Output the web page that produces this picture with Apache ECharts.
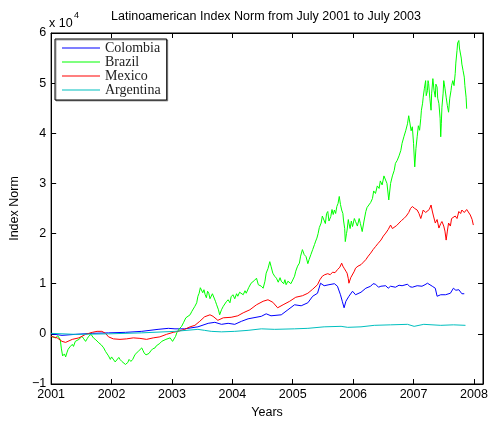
<!DOCTYPE html>
<html>
<head>
<meta charset="utf-8">
<script src="https://cdn.jsdelivr.net/npm/echarts@6/dist/echarts.min.js"></script>
<style>
  html, body { margin: 0; padding: 0; background: #fff; }
  #chart { width: 491px; height: 425px; }
</style>
</head>
<body>
<div id="chart"></div>
<script>
// Index values are in units of 10^4 (see the axis multiplier).
const colombiaYears = [2001.00,2001.18,2001.40,2001.68,2001.95,2002.23,2002.50,2002.77,2002.94,2003.05,2003.21,2003.43,2003.60,2003.71,2003.82,2003.93,2004.04,2004.15,2004.26,2004.48,2004.56,2004.64,2004.81,2004.92,2005.03,2005.14,2005.25,2005.33,2005.41,2005.46,2005.52,2005.60,2005.69,2005.74,2005.79,2005.82,2005.85,2005.88,2005.93,2005.99,2006.04,2006.13,2006.21,2006.29,2006.33,2006.37,2006.42,2006.46,2006.54,2006.58,2006.62,2006.70,2006.76,2006.81,2006.90,2006.94,2006.98,2007.06,2007.14,2007.19,2007.23,2007.31,2007.36,2007.39,2007.45,2007.53,2007.61,2007.66,2007.70,2007.75,2007.80,2007.84];
const colombiaValues = [0.00,-0.03,-0.01,0.01,0.02,0.03,0.05,0.09,0.11,0.10,0.10,0.14,0.21,0.23,0.19,0.21,0.19,0.25,0.30,0.35,0.40,0.36,0.38,0.48,0.58,0.56,0.62,0.75,0.81,1.01,0.96,0.98,1.00,0.95,0.78,0.65,0.52,0.65,0.75,0.85,0.78,0.83,0.91,0.95,1.00,0.99,0.93,0.95,0.96,0.91,0.95,0.93,0.97,0.96,0.99,0.94,0.93,0.96,0.95,0.98,1.01,0.95,0.91,0.75,0.78,0.78,0.81,0.91,0.87,0.88,0.80,0.80];

const brazilYears = [2001.00,2001.03,2001.07,2001.11,2001.15,2001.17,2001.19,2001.22,2001.24,2001.26,2001.28,2001.31,2001.35,2001.37,2001.40,2001.43,2001.46,2001.49,2001.51,2001.54,2001.57,2001.60,2001.62,2001.66,2001.70,2001.74,2001.79,2001.83,2001.87,2001.90,2001.92,2001.95,2001.98,2002.00,2002.03,2002.06,2002.09,2002.12,2002.14,2002.17,2002.20,2002.23,2002.25,2002.27,2002.29,2002.32,2002.35,2002.37,2002.39,2002.42,2002.45,2002.48,2002.50,2002.52,2002.54,2002.57,2002.60,2002.62,2002.65,2002.68,2002.72,2002.74,2002.77,2002.80,2002.83,2002.86,2002.90,2002.93,2002.97,2003.01,2003.04,2003.06,
  2003.08,2003.12,2003.16,2003.19,2003.23,2003.26,2003.30,2003.33,2003.35,2003.38,2003.41,2003.43,2003.45,2003.47,2003.49,2003.51,2003.53,2003.55,2003.57,2003.59,2003.61,2003.63,2003.65,2003.67,2003.70,2003.72,2003.74,2003.77,2003.79,2003.82,2003.85,2003.88,2003.90,2003.93,2003.96,2003.98,2004.01,2004.04,2004.07,2004.09,2004.12,2004.15,2004.18,2004.21,2004.23,2004.27,2004.31,2004.34,2004.37,2004.40,2004.43,2004.45,2004.48,2004.51,2004.54,2004.56,2004.59,2004.62,2004.64,2004.67,2004.70,2004.73,2004.76,2004.79,2004.81,2004.85,2004.87,2004.89,2004.92,2004.95,2004.97,
  2005.00,2005.03,2005.05,2005.08,2005.11,2005.13,2005.16,2005.19,2005.22,2005.25,2005.27,2005.30,2005.33,2005.36,2005.38,2005.40,2005.42,2005.44,2005.47,2005.49,2005.52,2005.54,2005.56,2005.58,2005.60,2005.63,2005.65,2005.67,2005.69,2005.71,2005.73,2005.75,2005.77,2005.79,2005.81,2005.83,2005.84,2005.86,2005.87,2005.89,2005.90,2005.92,2005.93,2005.95,2005.97,2005.99,
  2006.02,2006.04,2006.07,2006.10,2006.12,2006.15,2006.18,2006.21,2006.23,2006.26,2006.29,2006.32,2006.34,2006.37,2006.40,2006.43,2006.45,2006.48,2006.51,2006.54,2006.56,2006.59,2006.62,2006.65,2006.68,2006.70,2006.73,2006.76,2006.79,2006.81,2006.84,2006.87,2006.90,2006.92,2006.94,2006.96,2006.98,
  2007.00,2007.02,2007.04,2007.06,2007.08,2007.10,2007.12,2007.13,2007.15,2007.16,2007.18,2007.20,2007.21,2007.23,2007.24,2007.25,2007.27,2007.29,2007.30,2007.32,2007.34,2007.36,2007.37,2007.39,2007.40,2007.42,2007.44,2007.45,2007.46,2007.47,2007.49,2007.50,2007.52,2007.54,2007.56,2007.58,2007.60,2007.62,2007.63,2007.65,2007.67,2007.69,2007.70,2007.72,2007.73,2007.75,2007.76,2007.77,2007.79,2007.80,2007.82,2007.84,2007.85,2007.87,2007.88];
const brazilValues = [-0.05,-0.02,-0.08,-0.04,-0.11,-0.30,-0.44,-0.40,-0.46,-0.38,-0.31,-0.26,-0.21,-0.25,-0.15,-0.18,-0.11,-0.14,-0.05,-0.10,-0.15,-0.09,-0.05,-0.01,-0.08,-0.12,-0.18,-0.22,-0.28,-0.35,-0.38,-0.44,-0.51,-0.46,-0.48,-0.56,-0.54,-0.47,-0.51,-0.55,-0.58,-0.61,-0.64,-0.57,-0.51,-0.55,-0.51,-0.46,-0.41,-0.38,-0.34,-0.31,-0.28,-0.33,-0.38,-0.42,-0.44,-0.39,-0.34,-0.30,-0.28,-0.24,-0.21,-0.19,-0.15,-0.17,-0.11,-0.12,-0.08,-0.15,-0.18,-0.05,
  0.02,0.10,0.15,0.22,0.32,0.30,0.38,0.45,0.48,0.55,0.62,0.75,0.81,0.92,0.95,0.82,0.88,0.78,0.72,0.85,0.81,0.70,0.68,0.80,0.78,0.65,0.58,0.48,0.38,0.48,0.55,0.52,0.64,0.68,0.62,0.74,0.78,0.70,0.80,0.75,0.83,0.85,0.78,0.86,0.81,0.92,1.01,0.98,1.07,1.11,0.98,1.01,0.95,0.91,1.05,1.21,1.30,1.44,1.35,1.21,1.15,1.11,1.03,1.12,1.05,1.00,1.08,0.98,1.05,1.08,1.00,
  1.01,1.15,1.25,1.35,1.41,1.55,1.68,1.58,1.54,1.40,1.48,1.58,1.68,1.78,1.85,1.91,2.00,2.12,2.21,2.35,2.34,2.20,2.40,2.44,2.25,2.34,2.48,2.38,2.47,2.40,2.54,2.60,2.74,2.58,2.47,2.40,2.27,2.10,1.84,2.00,2.07,2.28,2.21,2.10,2.25,2.14,
  2.30,2.24,2.15,2.30,2.20,2.04,2.25,2.44,2.52,2.57,2.62,2.70,2.85,2.80,2.95,2.90,3.05,2.97,3.15,3.13,3.00,2.67,3.00,3.15,3.26,3.40,3.46,3.55,3.66,3.80,3.93,4.05,4.19,4.35,4.32,4.05,4.13,
  3.80,3.33,3.70,3.93,4.15,4.06,4.30,4.46,4.60,4.72,4.90,5.05,4.75,4.85,5.05,4.99,4.70,4.46,4.80,5.09,4.85,4.72,4.98,4.92,4.70,4.59,4.30,3.93,4.20,4.52,4.80,5.05,4.90,4.72,4.55,4.42,4.70,4.85,4.95,5.05,4.95,5.19,5.40,5.65,5.80,5.85,5.70,5.72,5.50,5.38,5.25,5.12,4.95,4.72,4.49];

const mexicoYears = [2001.00,2001.10,2001.18,2001.24,2001.35,2001.46,2001.57,2001.68,2001.76,2001.84,2001.90,2001.95,2002.03,2002.14,2002.25,2002.36,2002.47,2002.58,2002.69,2002.80,2002.91,2003.02,2003.10,2003.21,2003.30,2003.38,2003.46,2003.54,2003.63,2003.68,2003.76,2003.85,2003.98,2004.09,2004.18,2004.29,2004.40,2004.51,2004.59,2004.67,2004.75,2004.84,2004.95,2005.05,2005.16,2005.25,2005.33,
  2005.41,2005.45,2005.49,2005.53,2005.58,2005.62,2005.66,2005.70,2005.74,2005.78,2005.81,2005.83,2005.85,2005.88,2005.90,2005.92,2005.93,2005.96,2005.99,2006.02,2006.04,2006.08,2006.13,2006.17,2006.21,2006.25,2006.29,2006.33,2006.37,2006.41,2006.46,2006.50,2006.54,2006.58,2006.62,2006.65,2006.68,2006.72,2006.76,2006.80,2006.84,2006.88,2006.92,2006.95,2006.98,
  2007.02,2007.06,2007.09,2007.12,2007.14,2007.16,2007.20,2007.23,2007.26,2007.29,2007.31,2007.33,2007.36,2007.39,2007.42,2007.45,2007.47,2007.50,2007.52,2007.54,2007.56,2007.58,2007.61,2007.63,2007.66,2007.69,2007.72,2007.75,2007.78,2007.80,2007.84,2007.88,2007.91,2007.94,2007.97,2007.99];
const mexicoValues = [-0.05,-0.08,-0.15,-0.17,-0.11,-0.08,-0.01,0.03,0.05,0.05,0.01,-0.06,-0.10,-0.11,-0.10,-0.08,-0.09,-0.11,-0.08,-0.06,-0.01,0.03,0.05,0.09,0.14,0.17,0.25,0.34,0.38,0.35,0.27,0.32,0.33,0.36,0.42,0.48,0.58,0.65,0.68,0.63,0.52,0.58,0.65,0.73,0.76,0.81,0.89,
  0.98,1.08,1.15,1.18,1.20,1.18,1.23,1.22,1.28,1.33,1.41,1.35,1.31,1.25,1.21,1.10,1.01,1.12,1.15,1.25,1.31,1.35,1.38,1.43,1.48,1.55,1.61,1.68,1.74,1.80,1.87,1.95,2.01,2.08,2.17,2.10,2.07,2.16,2.21,2.26,2.30,2.35,2.42,2.50,2.54,
  2.50,2.47,2.40,2.30,2.38,2.47,2.42,2.40,2.48,2.57,2.45,2.35,2.21,2.28,2.11,2.20,2.24,2.15,2.05,1.87,2.05,2.21,2.15,2.30,2.27,2.35,2.30,2.44,2.40,2.47,2.42,2.48,2.45,2.37,2.28,2.17];

const argentinaYears = [2001.00,2001.40,2001.95,2002.50,2003.05,2003.43,2003.54,2003.65,2003.82,2004.04,2004.26,2004.48,2004.70,2005.03,2005.25,2005.52,2005.80,2005.91,2006.13,2006.35,2006.62,2006.90,2007.01,2007.17,2007.45,2007.66,2007.86];
const argentinaValues = [0.01,-0.01,0.00,0.02,0.05,0.09,0.07,0.05,0.04,0.05,0.07,0.10,0.09,0.10,0.11,0.14,0.15,0.13,0.14,0.17,0.18,0.19,0.15,0.19,0.17,0.18,0.17];

const seriesNames = ['Colombia', 'Brazil', 'Mexico', 'Argentina'];
const seriesColors = ['#0000ff', '#00ff00', '#ff0000', '#00bfbf'];
const seriesYears = [colombiaYears, brazilYears, mexicoYears, argentinaYears];
const seriesValues = [colombiaValues, brazilValues, mexicoValues, argentinaValues];

const chart = echarts.init(document.getElementById('chart'), null, { renderer: 'canvas' });

const sansFont = '"Liberation Sans", Arial, Helvetica, sans-serif';
const serifFont = '"Liberation Serif", "Times New Roman", serif';

const tickLabel = { color: '#000', fontFamily: sansFont, fontSize: 12.5 };
const innerTick = { show: true, inside: true, length: 5, lineStyle: { color: '#000', width: 1 } };

function fmtYear(v) {
  return Math.abs(v - Math.round(v)) < 1e-6 ? String(Math.round(v)) : '';
}
function fmtVal(v) {
  return v < 0 ? '\u2212' + Math.abs(v) : String(v);
}

chart.setOption({
  animation: false,
  backgroundColor: '#fff',
  grid: {
    left: 49, right: 8, top: 33, bottom: 41,
    show: true, borderColor: '#000', borderWidth: 1, backgroundColor: '#fff'
  },
  legend: {
    data: seriesNames,
    orient: 'vertical',
    left: 55, top: 39,
    padding: [2, 6, 3, 7],
    itemGap: 0,
    itemWidth: 38,
    itemHeight: 1,
    icon: 'rect',
    backgroundColor: '#fff',
    borderColor: '#000',
    borderWidth: 1,
    shadowColor: 'rgba(0,0,0,0.35)',
    shadowOffsetX: 1,
    shadowOffsetY: 1,
    shadowBlur: 0,
    selectedMode: false,
    textStyle: { fontFamily: serifFont, fontSize: 14, color: '#222', lineHeight: 12 }
  },
  xAxis: [
    {
      type: 'value', min: 2001, max: 2008.15, interval: 1,
      name: 'Years', nameLocation: 'middle', nameGap: 22,
      nameTextStyle: { fontFamily: sansFont, fontSize: 12.5, color: '#000' },
      axisLine: { show: true, onZero: false, lineStyle: { color: '#000', width: 1 } },
      axisTick: innerTick,
      axisLabel: Object.assign({ margin: 4, formatter: fmtYear, showMaxLabel: false }, tickLabel),
      splitLine: { show: false }
    },
    {
      type: 'value', min: 2001, max: 2008.15, interval: 1, position: 'top',
      axisLine: { show: true, onZero: false, lineStyle: { color: '#000', width: 1 } },
      axisTick: innerTick,
      axisLabel: { show: false },
      splitLine: { show: false }
    }
  ],
  yAxis: [
    {
      type: 'value', min: -1, max: 6, interval: 1,
      name: 'Index Norm', nameLocation: 'middle', nameGap: 27,
      nameTextStyle: { fontFamily: sansFont, fontSize: 12.5, color: '#000' },
      axisLine: { show: true, onZero: false, lineStyle: { color: '#000', width: 1 } },
      axisTick: innerTick,
      axisLabel: Object.assign({ margin: 5, formatter: fmtVal }, tickLabel),
      splitLine: { show: false }
    },
    {
      type: 'value', min: -1, max: 6, interval: 1, position: 'right',
      axisLine: { show: true, onZero: false, lineStyle: { color: '#000', width: 1 } },
      axisTick: innerTick,
      axisLabel: { show: false },
      splitLine: { show: false }
    }
  ],
  graphic: [
    {
      type: 'text', x: 266, y: 10,
      style: {
        text: 'Latinoamerican Index Norm from July 2001 to July 2003',
        fontFamily: sansFont, fontSize: 12.5, fill: '#000', align: 'center'
      }
    },
    {
      type: 'text', x: 49, y: 17,
      style: { text: 'x 10', fontFamily: sansFont, fontSize: 12.5, fill: '#000' }
    },
    {
      type: 'text', x: 74, y: 11,
      style: { text: '4', fontFamily: sansFont, fontSize: 9, fill: '#000' }
    }
  ],
  series: seriesNames.map((name, i) => ({
    name: name,
    type: 'line',
    xAxisIndex: 0,
    yAxisIndex: 0,
    data: seriesYears[i].map((y, k) => [y, seriesValues[i][k]]),
    showSymbol: false,
    symbol: 'none',
    color: seriesColors[i],
    lineStyle: { color: seriesColors[i], width: 1 },
    emphasis: { disabled: true }
  }))
});
</script>
</body>
</html>
